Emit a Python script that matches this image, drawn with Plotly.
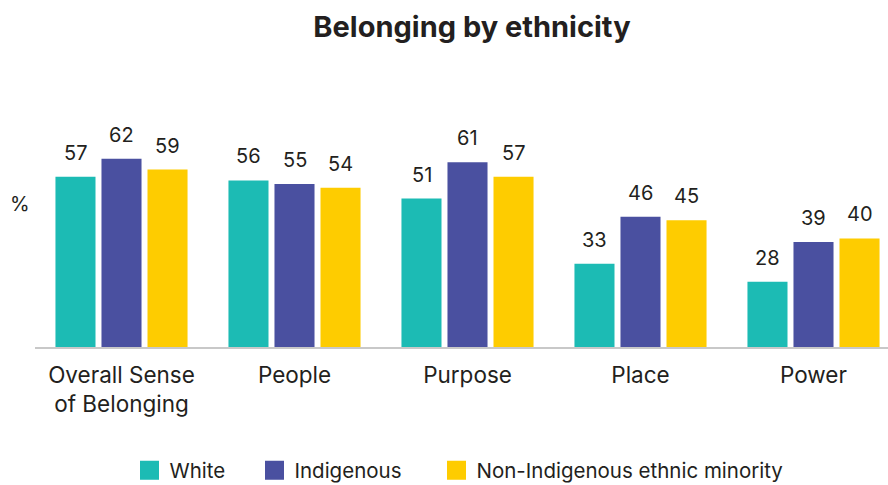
import plotly.graph_objects as go

categories = ["Overall Sense<br>of Belonging", "People", "Purpose", "Place", "Power"]
white = [57, 56, 51, 33, 28]
indigenous = [62, 55, 61, 46, 39]
non_indigenous_minority = [59, 54, 57, 45, 40]

series = [
    ("White", white, "#1cbbb4"),
    ("Indigenous", indigenous, "#4a50a0"),
    ("Non-Indigenous ethnic minority", non_indigenous_minority, "#fecc00"),
]

FONT = "Inter, Poppins, 'Open Sans', sans-serif"
TEXT = "#231f20"

fig = go.Figure()
for name, values, color in series:
    fig.add_trace(go.Bar(
        x=categories, y=values, base=0, name=name,
        marker=dict(color=color, line=dict(width=0)),
        hoverinfo="skip", showlegend=False,
    ))

# legend entries: one legend box per series so each can sit at its own spot
legend_ids = ["legend", "legend2", "legend3"]
legend_x = [0.1108, 0.2573, 0.4707]
for (name, values, color), lid in zip(series, legend_ids):
    fig.add_trace(go.Scatter(
        x=[None], y=[None], name=name, mode="markers",
        marker=dict(symbol="square", size=16, color=color,
                    line=dict(color=color, width=3)),
        legend=lid, showlegend=True, hoverinfo="skip",
    ))

# value labels above each bar
offsets = [-46, 0, 46]
for (name, values, color), dx in zip(series, offsets):
    for cat, v in zip(categories, values):
        fig.add_annotation(
            x=cat, y=v, xshift=dx, yshift=10,
            text=str(v), showarrow=False, yanchor="bottom",
            font=dict(family=FONT, size=20, color=TEXT),
        )

fig.add_annotation(
    xref="paper", yref="paper", x=-0.018, y=0.68,
    text="%", showarrow=False, xanchor="center", yanchor="middle",
    font=dict(family=FONT, size=20, color=TEXT),
)

legend_style = dict(
    orientation="h", xanchor="left",
    yref="container", y=1 - 470.5 / 485, yanchor="middle",
    itemwidth=30, bgcolor="rgba(0,0,0,0)", borderwidth=0,
    font=dict(family=FONT, size=20.5, color=TEXT),
)

fig.update_layout(
    width=888, height=485,
    margin=dict(l=35, r=0, t=137, b=138, autoexpand=False),
    paper_bgcolor="white", plot_bgcolor="white",
    barmode="group", bargap=0.202, bargroupgap=0.13,
    title=dict(
        text="<b>Belonging by ethnicity</b>",
        x=0.5315, xref="container", xanchor="center",
        y=1 - 27 / 485, yref="container", yanchor="middle",
        font=dict(family=FONT, size=29, color=TEXT),
    ),
    xaxis=dict(
        range=[-0.5, -0.5 + 853 / 173],
        showline=True, linecolor="#c8c8c8", linewidth=2,
        showgrid=False, ticks="", ticklabelstandoff=7,
        tickfont=dict(family=FONT, size=22.5, color=TEXT),
    ),
    yaxis=dict(
        range=[10, 68], showgrid=False, zeroline=False,
        showticklabels=False, showline=False,
    ),
    legend=dict(x=legend_x[0], **legend_style),
    legend2=dict(x=legend_x[1], **legend_style),
    legend3=dict(x=legend_x[2], **legend_style),
    showlegend=True,
)

fig.write_html("out.html")
